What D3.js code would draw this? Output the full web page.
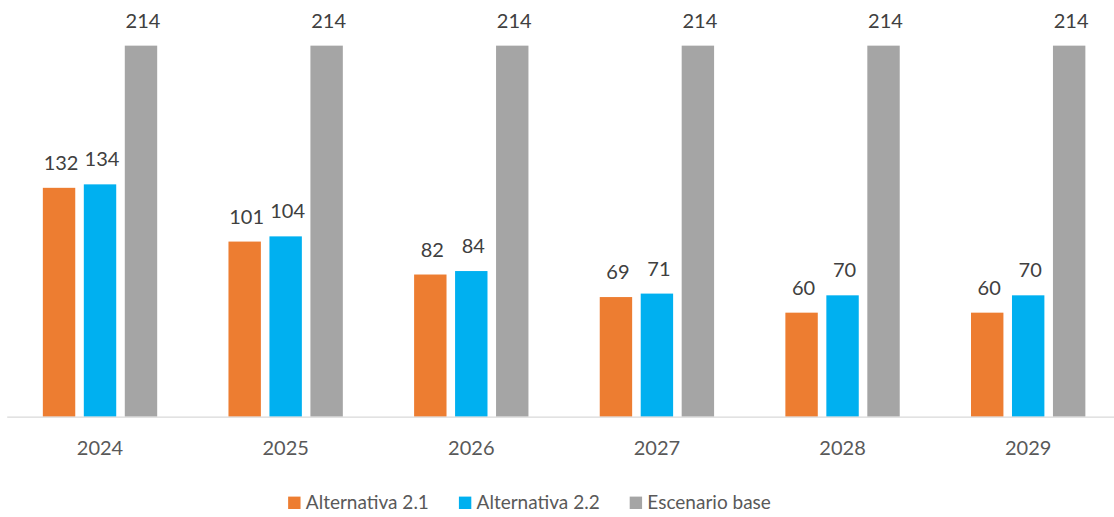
<!DOCTYPE html>
<html>
<head>
<meta charset="utf-8">
<script src="https://cdn.jsdelivr.net/npm/d3@7"></script>
<style>
  html, body { margin: 0; padding: 0; background: #fff; }
  svg { display: block; font-family: Lato, "Open Sans", sans-serif; }
</style>
</head>
<body>
<svg id="chart" width="1114" height="517"></svg>
<script>
// Chart data
const years = ["2024", "2025", "2026", "2027", "2028", "2029"];
const seriesNames = ["Alternativa 2.1", "Alternativa 2.2", "Escenario base"];
const alt21 = [132, 101, 82, 69, 60, 60];
const alt22 = [134, 104, 84, 71, 70, 70];
const base = [214, 214, 214, 214, 214, 214];
const colors = ["#ED7D31", "#00B0F0", "#A5A5A5"];

const seriesValues = [alt21, alt22, base];

const svg = d3.select("#chart");

const baseline = 416.7;

const x0 = d3.scaleBand()
  .domain(years)
  .range([7.2, 1121])
  .paddingInner(0.384)
  .paddingOuter(0.192);

const x1 = d3.scaleBand()
  .domain(seriesNames)
  .range([0, x0.bandwidth()])
  .paddingInner(0.209)
  .paddingOuter(0);

const y = d3.scaleLinear()
  .domain([0, 230])
  .range([baseline, 17.9]);

const rows = [];
years.forEach((yr, i) => {
  seriesNames.forEach((s, j) => {
    rows.push({ year: yr, series: s, value: seriesValues[j][i], color: colors[j] });
  });
});

// Bars
svg.append("g").selectAll("rect")
  .data(rows)
  .join("rect")
  .attr("x", d => x0(d.year) + x1(d.series))
  .attr("y", d => y(d.value))
  .attr("width", x1.bandwidth())
  .attr("height", d => y(0) - y(d.value))
  .attr("fill", d => d.color);

// Value labels
svg.append("g").selectAll("text")
  .data(rows)
  .join("text")
  .attr("x", d => x0(d.year) + x1(d.series) + x1.bandwidth() / 2 + 2)
  .attr("y", d => y(d.value) - 18)
  .attr("text-anchor", "middle")
  .attr("font-size", 20)
  .attr("fill", "#404040")
  .text(d => d.value);

// Category axis
const xAxis = svg.append("g")
  .attr("transform", `translate(0,${baseline})`)
  .call(d3.axisBottom(x0).tickSize(0).tickPadding(0));
xAxis.select(".domain")
  .attr("d", `M${x0.range()[0]},0.5H${x0.range()[1]}`)
  .attr("stroke", "#D9D9D9")
  .attr("stroke-width", 1.3);
xAxis.selectAll(".tick text")
  .attr("y", 38.5)
  .attr("dy", null)
  .attr("font-size", 20)
  .attr("font-family", "Lato, 'Open Sans', sans-serif")
  .attr("fill", "#595959");

// Legend
const legend = svg.append("g");
let cursor = 0;
seriesNames.forEach((name, j) => {
  const item = legend.append("g").attr("transform", `translate(${cursor},0)`);
  item.append("rect")
    .attr("x", 0).attr("y", -12.4)
    .attr("width", 12.4).attr("height", 12.4)
    .attr("fill", colors[j]);
  const t = item.append("text")
    .attr("x", 17.7)
    .attr("y", 0)
    .attr("font-size", 19)
    .attr("fill", "#595959")
    .text(name);
  cursor += 17.7 + t.node().getComputedTextLength() + 30;
});
const legendWidth = cursor - 30;
legend.attr("transform", `translate(${529.5 - legendWidth / 2},509)`);
</script>
</body>
</html>
